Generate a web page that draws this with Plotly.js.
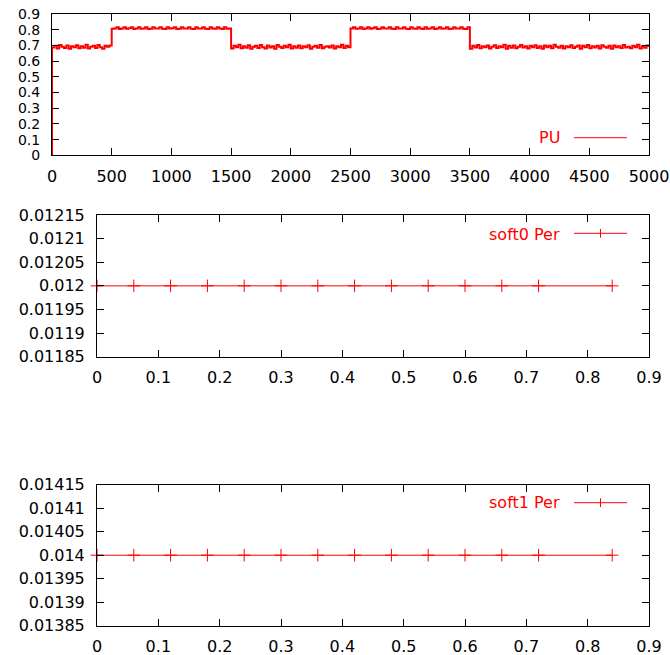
<!DOCTYPE html>
<html>
<head>
<meta charset="utf-8">
<script src="https://cdn.plot.ly/plotly-3.0.1.min.js"></script>
<style>html,body{margin:0;padding:0;background:#fff;}</style>
</head>
<body>
<div id="chart" style="width:670px;height:655px;"></div>
<script>
var puStep = 20;
var puSegStarts = [0, 500, 1500, 2500, 3500];
var puSegA = [0.686,0.697,0.680,0.703,0.691,0.683,0.700,0.679,0.695,0.689,0.701,0.682,0.694,0.685,0.704,0.680,0.692,0.698,0.683,0.703,0.688,0.679,0.697,0.691,0.700];
var puSegB = [0.806,0.808,0.816,0.805,0.807,0.815,0.806,0.809,0.816,0.805,0.807,0.815,0.806,0.808,0.816,0.805,0.806,0.815,0.807,0.808,0.816,0.806,0.805,0.815,0.807,0.809,0.816,0.805,0.806,0.815,0.808,0.807,0.816,0.806,0.805,0.815,0.807,0.808,0.816,0.806,0.805,0.815,0.807,0.806,0.816,0.808,0.805,0.815,0.806,0.807];
var puSegC = [0.680,0.698,0.688,0.704,0.682,0.694,0.685,0.701,0.679,0.692,0.697,0.683,0.703,0.689,0.680,0.700,0.686,0.695,0.678,0.703,0.691,0.683,0.698,0.688,0.704,0.680,0.694,0.685,0.700,0.682,0.695,0.689,0.701,0.679,0.692,0.698,0.685,0.703,0.682,0.691,0.695,0.686,0.700,0.680,0.694,0.688,0.704,0.683,0.697,0.689];
var puSegD = [0.807,0.815,0.806,0.808,0.816,0.805,0.807,0.815,0.806,0.809,0.816,0.805,0.806,0.815,0.808,0.807,0.816,0.806,0.805,0.815,0.807,0.808,0.816,0.806,0.805,0.815,0.807,0.806,0.816,0.808,0.805,0.815,0.806,0.807,0.816,0.805,0.808,0.815,0.806,0.807,0.816,0.805,0.806,0.815,0.808,0.807,0.816,0.806,0.805,0.815];
var puSegE = [0.679,0.698,0.686,0.703,0.682,0.695,0.689,0.700,0.680,0.692,0.701,0.683,0.694,0.688,0.704,0.679,0.697,0.685,0.700,0.682,0.691,0.703,0.686,0.695,0.680,0.698,0.689,0.701,0.683,0.694,0.678,0.700,0.688,0.697,0.682,0.704,0.691,0.685,0.698,0.680,0.695,0.688,0.701,0.683,0.692,0.700,0.679,0.697,0.689,0.703,0.682,0.694,0.686,0.698,0.680,0.701,0.691,0.685,0.697,0.679,0.700,0.689,0.695,0.683,0.703,0.686,0.692,0.682,0.698,0.688,0.704,0.680,0.694,0.685,0.700,0.691];
var puStart = [0, 0]; // [x, y] of first sample

// ---- Data: middle and bottom panels ----
var perX = [0,0.06,0.12,0.18,0.24,0.30,0.36,0.42,0.48,0.54,0.60,0.66,0.72,0.84];
var soft0Per = [0.012,0.012,0.012,0.012,0.012,0.012,0.012,0.012,0.012,0.012,0.012,0.012,0.012,0.012];
var soft1Per = [0.014,0.014,0.014,0.014,0.014,0.014,0.014,0.014,0.014,0.014,0.014,0.014,0.014,0.014];

// ---- Tick labels ----
var soft0TickVals = [0.01185,0.0119,0.01195,0.012,0.01205,0.0121,0.01215];
var soft0TickText = ["0.01185","0.0119","0.01195","0.012","0.01205","0.0121","0.01215"];
var soft1TickVals = [0.01385,0.0139,0.01395,0.014,0.01405,0.0141,0.01415];
var soft1TickText = ["0.01385","0.0139","0.01395","0.014","0.01405","0.0141","0.01415"];

// build PU series
var puX = [puStart[0]], puY = [puStart[1]];
[puSegA, puSegB, puSegC, puSegD, puSegE].forEach(function (seg, s) {
  seg.forEach(function (v, i) { puX.push(puSegStarts[s] + i * puStep); puY.push(v); });
});

var W = 670, H = 655;
function px(x){ return x / W; }
function py(y){ return 1 - y / H; }

var RED = '#ff0000';
var FAM = 'DejaVu Sans, Liberation Sans, sans-serif';
var FONT = {family: FAM, size: 16, color: '#000'};

var traces = [
  {x: puX, y: puY, xaxis: 'x', yaxis: 'y', type: 'scatter', mode: 'lines',
   line: {color: RED, width: 2, shape: 'hv'}, name: 'PU', showlegend: false},
  {x: perX, y: soft0Per, xaxis: 'x2', yaxis: 'y2', type: 'scatter', mode: 'lines+markers',
   line: {color: RED, width: 1}, marker: {symbol: 'cross-thin', size: 9, line: {color: RED, width: 1}},
   cliponaxis: false, name: 'soft0 Per', showlegend: false},
  {x: perX, y: soft1Per, xaxis: 'x3', yaxis: 'y3', type: 'scatter', mode: 'lines+markers',
   line: {color: RED, width: 1}, marker: {symbol: 'cross-thin', size: 9, line: {color: RED, width: 1}},
   cliponaxis: false, name: 'soft1 Per', showlegend: false}
];

function axisBase(extra) {
  var a = {showline: true, linecolor: '#000', linewidth: 1, mirror: 'ticks', ticks: 'inside',
    ticklen: 7, tickcolor: '#000', tickwidth: 1, showgrid: false, zeroline: false,
    tickfont: FONT, fixedrange: true};
  for (var k in extra) a[k] = extra[k];
  return a;
}

var layout = {
  width: W, height: H,
  margin: {l: 0, r: 0, t: 0, b: 0, pad: 0},
  paper_bgcolor: '#fff', plot_bgcolor: '#fff',
  showlegend: false,
  xaxis: axisBase({domain: [px(52), px(649)], anchor: 'y', range: [0, 5000], dtick: 500, tick0: 0, ticklabelstandoff: 6}),
  yaxis: axisBase({domain: [py(155.3), py(14)], anchor: 'x', range: [0, 0.9], dtick: 0.1, tick0: 0, ticklabelstandoff: 8,
    tickfont: {family: FAM, size: 14, color: '#000'}}),
  xaxis2: axisBase({domain: [px(97), px(649)], anchor: 'y2', range: [0, 0.9], dtick: 0.1, tick0: 0, ticklabelstandoff: 6}),
  yaxis2: axisBase({domain: [py(356.7), py(215)], anchor: 'x2', range: [0.01185, 0.01215], tickmode: 'array', tickvals: soft0TickVals, ticktext: soft0TickText, ticklabelstandoff: 8}),
  xaxis3: axisBase({domain: [px(97), px(649)], anchor: 'y3', range: [0, 0.9], dtick: 0.1, tick0: 0, ticklabelstandoff: 6}),
  yaxis3: axisBase({domain: [py(625.7), py(484.7)], anchor: 'x3', range: [0.01385, 0.01415], tickmode: 'array', tickvals: soft1TickVals, ticktext: soft1TickText, ticklabelstandoff: 8}),
  annotations: [
    {text: 'PU', xref: 'paper', yref: 'paper', x: px(562), y: py(137.7), xanchor: 'right', yanchor: 'middle', showarrow: false, font: {family: FAM, size: 16, color: RED}},
    {text: 'soft0 Per', xref: 'paper', yref: 'paper', x: px(562), y: py(234.3), xanchor: 'right', yanchor: 'middle', showarrow: false, font: {family: FAM, size: 16, color: RED}},
    {text: 'soft1 Per', xref: 'paper', yref: 'paper', x: px(562), y: py(502.7), xanchor: 'right', yanchor: 'middle', showarrow: false, font: {family: FAM, size: 16, color: RED}}
  ],
  shapes: [
    {type: 'line', xref: 'paper', yref: 'paper', x0: px(574), x1: px(627), y0: py(137.7), y1: py(137.7), line: {color: RED, width: 1}},
    {type: 'line', xref: 'paper', yref: 'paper', x0: px(574), x1: px(627), y0: py(233.3), y1: py(233.3), line: {color: RED, width: 1}},
    {type: 'line', xref: 'paper', yref: 'paper', x0: px(600.5), x1: px(600.5), y0: py(229), y1: py(237.6), line: {color: RED, width: 1}},
    {type: 'line', xref: 'paper', yref: 'paper', x0: px(574), x1: px(627), y0: py(502.7), y1: py(502.7), line: {color: RED, width: 1}},
    {type: 'line', xref: 'paper', yref: 'paper', x0: px(600.5), x1: px(600.5), y0: py(498.4), y1: py(507), line: {color: RED, width: 1}}
  ]
};

Plotly.newPlot('chart', traces, layout, {staticPlot: true, displayModeBar: false});
</script>
</body>
</html>
